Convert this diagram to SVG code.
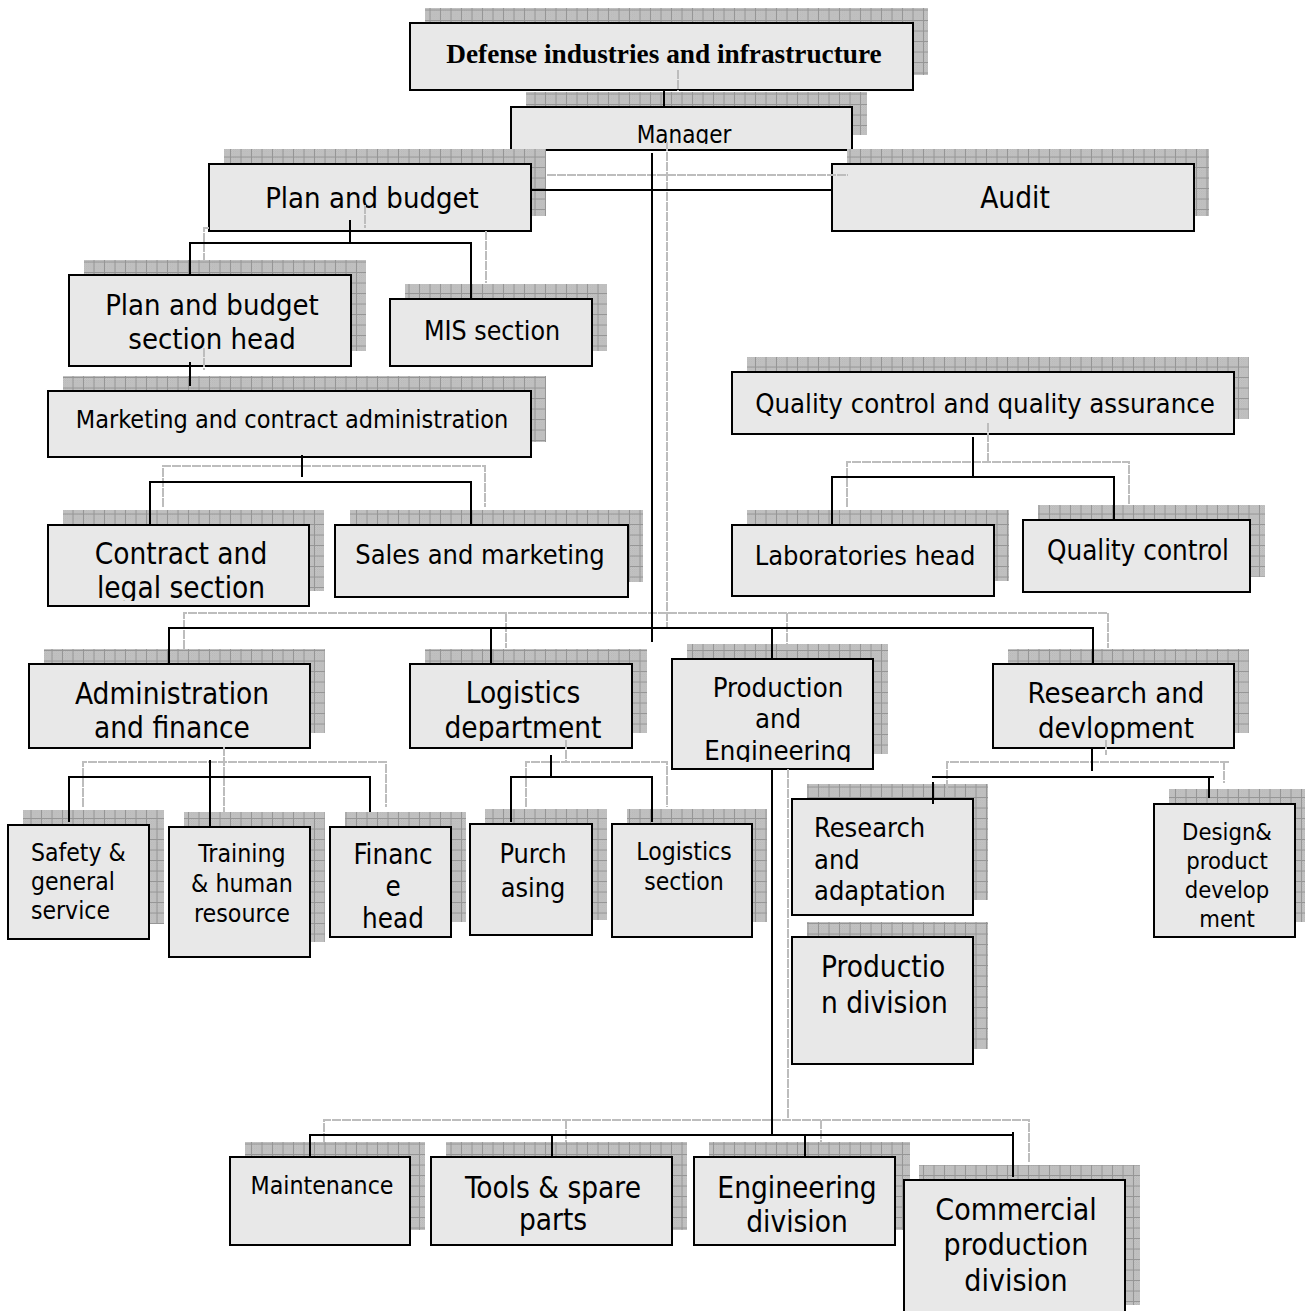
<svg xmlns="http://www.w3.org/2000/svg" width="1305" height="1311" viewBox="0 0 1305 1311">
  <style>
    .sh { fill: url(#grid); }
    .bx { fill: #e8e8e8; stroke: #000; stroke-width: 2; }
    .t { font-family: "DejaVu Sans Condensed", "DejaVu Sans", sans-serif; fill: #000; text-anchor: middle; }
    .l { text-anchor: start; }
    .title { font-family: "Liberation Serif", "Times New Roman", serif; font-weight: bold; font-size: 27.3px; fill: #000; text-anchor: middle; }
    .ln { fill: none; stroke: #000; stroke-width: 2; }
    .gl { fill: none; stroke: #bdbdbd; stroke-width: 2; stroke-dasharray: 9 1; }
  </style>
  <defs>
    <!-- fine dither under the shadow grid -->
    <pattern id="dither" width="2" height="2" patternUnits="userSpaceOnUse">
      <rect width="2" height="2" fill="#cbcbcb"/>
      <rect width="1" height="1" fill="#b4b4b4"/>
      <rect x="1" y="1" width="1" height="1" fill="#b4b4b4"/>
    </pattern>
    <pattern id="grid" width="10.5" height="10.5" patternUnits="userSpaceOnUse">
      <rect width="10.5" height="10.5" fill="url(#dither)"/>
      <path d="M10,0 V10.5 M0,10 H10.5" stroke="#959595" stroke-width="1"/>
    </pattern>
    <clipPath id="clip-manager"><rect x="511" y="107" width="341" height="37"/></clipPath>
    <clipPath id="clip-contract"><rect x="48" y="525" width="261" height="76"/></clipPath>
    <clipPath id="clip-logistics"><rect x="410" y="664" width="222" height="77"/></clipPath>
    <clipPath id="clip-production"><rect x="672" y="659" width="201" height="103"/></clipPath>
  </defs>

  <rect width="1305" height="1311" fill="#fff"/>

  <g id="nodes">
    <g id="n-defense">
      <rect class="sh" x="425" y="8" width="503" height="67"/>
      <rect class="bx" x="410" y="23" width="503" height="67"/>
      <text class="title" x="664" y="63">Defense industries and infrastructure</text>
    </g>
    <g id="n-manager">
      <rect class="sh" x="526" y="92" width="341" height="43"/>
      <rect class="bx" x="511" y="107" width="341" height="43"/>
      <text class="t" x="684" y="143" font-size="24" clip-path="url(#clip-manager)">Manager</text>
    </g>
    <g id="n-plan">
      <rect class="sh" x="224" y="149" width="322" height="67"/>
      <rect class="bx" x="209" y="164" width="322" height="67"/>
      <text class="t" x="372" y="208" font-size="29">Plan and budget</text>
    </g>
    <g id="n-audit">
      <rect class="sh" x="847" y="149" width="362" height="67"/>
      <rect class="bx" x="832" y="164" width="362" height="67"/>
      <text class="t" x="1015" y="208" font-size="29.5">Audit</text>
    </g>
    <g id="n-plan-head">
      <rect class="sh" x="84" y="260" width="282" height="91"/>
      <rect class="bx" x="69" y="275" width="282" height="91"/>
      <text class="t" x="212" y="315" font-size="29">Plan and budget</text>
      <text class="t" x="212" y="349" font-size="29">section head</text>
    </g>
    <g id="n-mis">
      <rect class="sh" x="405" y="284" width="202" height="67"/>
      <rect class="bx" x="390" y="299" width="202" height="67"/>
      <text class="t" x="492" y="340" font-size="26.5">MIS section</text>
    </g>
    <g id="n-marketing">
      <rect class="sh" x="63" y="376" width="483" height="66"/>
      <rect class="bx" x="48" y="391" width="483" height="66"/>
      <text class="t" x="292" y="428" font-size="25">Marketing and contract administration</text>
    </g>
    <g id="n-contract">
      <rect class="sh" x="63" y="510" width="261" height="81"/>
      <rect class="bx" x="48" y="525" width="261" height="81"/>
      <g clip-path="url(#clip-contract)">
        <text class="t" x="181" y="564" font-size="29.5">Contract and</text>
        <text class="t" x="181" y="598" font-size="29.5">legal section</text>
      </g>
    </g>
    <g id="n-sales">
      <rect class="sh" x="350" y="510" width="293" height="72"/>
      <rect class="bx" x="335" y="525" width="293" height="72"/>
      <text class="t" x="480" y="564" font-size="27">Sales and marketing</text>
    </g>
    <g id="n-qa">
      <rect class="sh" x="747" y="357" width="502" height="62"/>
      <rect class="bx" x="732" y="372" width="502" height="62"/>
      <text class="t" x="985" y="413" font-size="27.3">Quality control and quality assurance</text>
    </g>
    <g id="n-labs">
      <rect class="sh" x="747" y="510" width="262" height="71"/>
      <rect class="bx" x="732" y="525" width="262" height="71"/>
      <text class="t" x="865" y="565" font-size="27">Laboratories head</text>
    </g>
    <g id="n-qc">
      <rect class="sh" x="1038" y="505" width="227" height="72"/>
      <rect class="bx" x="1023" y="520" width="227" height="72"/>
      <text class="t" x="1138" y="560" font-size="27.5">Quality control</text>
    </g>
    <g id="n-admin">
      <rect class="sh" x="44" y="649" width="281" height="84"/>
      <rect class="bx" x="29" y="664" width="281" height="84"/>
      <text class="t" x="172" y="704" font-size="29.5">Administration</text>
      <text class="t" x="172" y="738" font-size="29.5">and finance</text>
    </g>
    <g id="n-logistics">
      <rect class="sh" x="425" y="649" width="222" height="84"/>
      <rect class="bx" x="410" y="664" width="222" height="84"/>
      <g clip-path="url(#clip-logistics)">
        <text class="t" x="523" y="703" font-size="29.5">Logistics</text>
        <text class="t" x="523" y="738" font-size="29.5">department</text>
      </g>
    </g>
    <g id="n-production">
      <rect class="sh" x="687" y="644" width="201" height="110"/>
      <rect class="bx" x="672" y="659" width="201" height="110"/>
      <g clip-path="url(#clip-production)">
        <text class="t" x="778" y="697" font-size="27.3">Production</text>
        <text class="t" x="778" y="728" font-size="27.3">and</text>
        <text class="t" x="778" y="760" font-size="27.3">Engineering</text>
      </g>
    </g>
    <g id="n-rnd">
      <rect class="sh" x="1008" y="649" width="241" height="84"/>
      <rect class="bx" x="993" y="664" width="241" height="84"/>
      <text class="t" x="1116" y="703" font-size="29">Research and</text>
      <text class="t" x="1116" y="738" font-size="29">devlopment</text>
    </g>
    <g id="n-safety">
      <rect class="sh" x="23" y="810" width="141" height="114"/>
      <rect class="bx" x="8" y="825" width="141" height="114"/>
      <text class="t l" x="31" y="861" font-size="24.5">Safety &amp;</text>
      <text class="t l" x="31" y="890" font-size="24.5">general</text>
      <text class="t l" x="31" y="919" font-size="24.5">service</text>
    </g>
    <g id="n-training">
      <rect class="sh" x="184" y="812" width="141" height="130"/>
      <rect class="bx" x="169" y="827" width="141" height="130"/>
      <text class="t" x="242" y="862" font-size="24.7">Training</text>
      <text class="t" x="242" y="892" font-size="24.7">&amp; human</text>
      <text class="t" x="242" y="922" font-size="24.7">resource</text>
    </g>
    <g id="n-finance">
      <rect class="sh" x="345" y="812" width="121" height="110"/>
      <rect class="bx" x="330" y="827" width="121" height="110"/>
      <text class="t" x="393" y="864" font-size="27.5">Financ</text>
      <text class="t" x="393" y="896" font-size="27.5">e</text>
      <text class="t" x="393" y="928" font-size="27.5">head</text>
    </g>
    <g id="n-purchasing">
      <rect class="sh" x="485" y="809" width="122" height="111"/>
      <rect class="bx" x="470" y="824" width="122" height="111"/>
      <text class="t" x="533" y="863" font-size="26.8">Purch</text>
      <text class="t" x="533" y="897" font-size="26.8">asing</text>
    </g>
    <g id="n-log-section">
      <rect class="sh" x="627" y="809" width="140" height="113"/>
      <rect class="bx" x="612" y="824" width="140" height="113"/>
      <text class="t" x="684" y="860" font-size="24.5">Logistics</text>
      <text class="t" x="684" y="890" font-size="24.5">section</text>
    </g>
    <g id="n-adaptation">
      <rect class="sh" x="807" y="784" width="181" height="116"/>
      <rect class="bx" x="792" y="799" width="181" height="116"/>
      <text class="t l" x="814" y="837" font-size="27">Research</text>
      <text class="t l" x="814" y="869" font-size="27">and</text>
      <text class="t l" x="814" y="900" font-size="27">adaptation</text>
    </g>
    <g id="n-prod-division">
      <rect class="sh" x="807" y="922" width="181" height="127"/>
      <rect class="bx" x="792" y="937" width="181" height="127"/>
      <text class="t l" x="821" y="977" font-size="29.5">Productio</text>
      <text class="t l" x="821" y="1013" font-size="29.5">n division</text>
    </g>
    <g id="n-design">
      <rect class="sh" x="1169" y="789" width="141" height="133"/>
      <rect class="bx" x="1154" y="804" width="141" height="133"/>
      <text class="t" x="1227" y="840" font-size="23.6">Design&amp;</text>
      <text class="t" x="1227" y="869" font-size="23.6">product</text>
      <text class="t" x="1227" y="898" font-size="23.6">develop</text>
      <text class="t" x="1227" y="927" font-size="23.6">ment</text>
    </g>
    <g id="n-maintenance">
      <rect class="sh" x="245" y="1142" width="180" height="88"/>
      <rect class="bx" x="230" y="1157" width="180" height="88"/>
      <text class="t" x="322" y="1194" font-size="24.7">Maintenance</text>
    </g>
    <g id="n-tools">
      <rect class="sh" x="446" y="1142" width="241" height="88"/>
      <rect class="bx" x="431" y="1157" width="241" height="88"/>
      <text class="t" x="553" y="1198" font-size="29.5">Tools &amp; spare</text>
      <text class="t" x="553" y="1230" font-size="29.5">parts</text>
    </g>
    <g id="n-eng-division">
      <rect class="sh" x="709" y="1142" width="201" height="88"/>
      <rect class="bx" x="694" y="1157" width="201" height="88"/>
      <text class="t" x="797" y="1198" font-size="29.5">Engineering</text>
      <text class="t" x="797" y="1232" font-size="29.5">division</text>
    </g>
    <g id="n-commercial">
      <rect class="sh" x="919" y="1165" width="221" height="140"/>
      <rect class="bx" x="904" y="1180" width="221" height="140"/>
      <text class="t" x="1016" y="1220" font-size="30">Commercial</text>
      <text class="t" x="1016" y="1255" font-size="30">production</text>
      <text class="t" x="1016" y="1291" font-size="30">division</text>
    </g>
  </g>

  <g id="connectors">
    <!-- light offset copies of the links -->
    <g class="gl">
      <path d="M678,70 V91"/>
      <path d="M547,175 H848"/>
      <path d="M667,142 V627"/>
      <path d="M184,649 V613 H1108 V648"/>
      <path d="M506,613 V648"/>
      <path d="M787,613 V650"/>
      <path d="M365,205 V228"/>
      <path d="M209,228 H204 V260"/>
      <path d="M486,231 V283"/>
      <path d="M204,348 V370"/>
      <path d="M163,507 V466 H485 V507"/>
      <path d="M988,423 V462"/>
      <path d="M847,507 V462 H1129 V505"/>
      <path d="M224,747 V812"/>
      <path d="M83,807 V762 H386 V807"/>
      <path d="M566,740 V762"/>
      <path d="M526,807 V762 H667 V807"/>
      <path d="M1106,740 V755"/>
      <path d="M947,789 V762 H1229"/>
      <path d="M1224,761 V783"/>
      <path d="M788,769 V1120"/>
      <path d="M324,1142 V1120 H1029 V1162"/>
      <path d="M566,1120 V1142"/>
      <path d="M821,1120 V1142"/>
    </g>
    <!-- reporting lines -->
    <g class="ln">
      <path d="M664,89 V107"/>
      <path d="M531,190 H832"/>
      <path d="M652,153 V642"/>
      <path d="M169,664 V628 H1093 V664"/>
      <path d="M491,628 V664"/>
      <path d="M772,628 V659"/>
      <path d="M350,220 V243"/>
      <path d="M190,275 V243 H471 V298"/>
      <path d="M190,362 V386"/>
      <path d="M302,455 V477"/>
      <path d="M150,525 V482 H471 V525"/>
      <path d="M973,437 V477"/>
      <path d="M832,525 V477 H1114 V520"/>
      <path d="M210,760 V827"/>
      <path d="M69,822 V777 H370 V812"/>
      <path d="M551,755 V777"/>
      <path d="M511,822 V777 H652 V822"/>
      <path d="M1092,748 V771"/>
      <path d="M932,777 H1214"/>
      <path d="M933,782 V804"/>
      <path d="M1209,777 V798"/>
      <path d="M772,769 V1135"/>
      <path d="M310,1157 V1135 H1013"/>
      <path d="M552,1135 V1157"/>
      <path d="M805,1135 V1157"/>
      <path d="M1013,1132 V1177"/>
    </g>
  </g>
</svg>
